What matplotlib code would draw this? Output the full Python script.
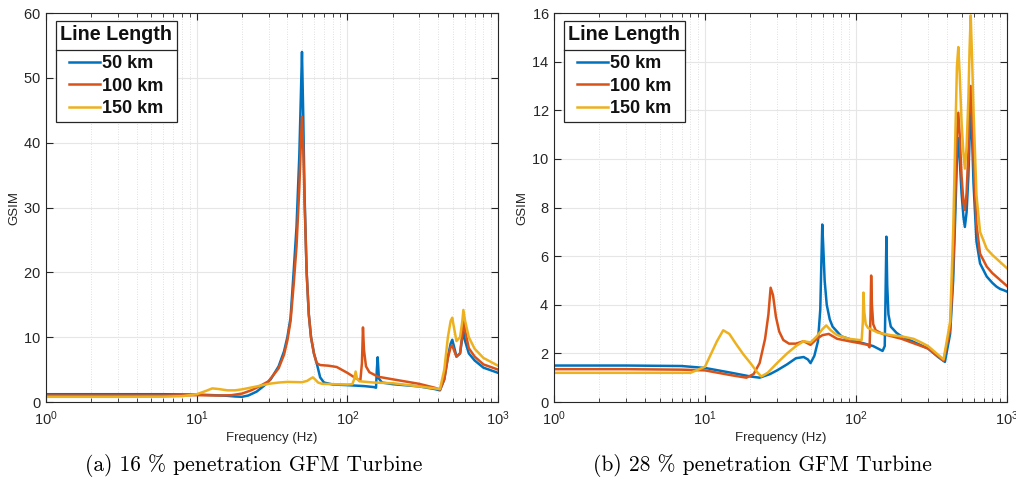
import numpy as np
import matplotlib
matplotlib.use("Agg")
import matplotlib.pyplot as plt
from matplotlib.lines import Line2D

# -----------------------------
# Datos
# -----------------------------
etiquetas = ["50 km", "100 km", "150 km"]
colores = ["#0072BD", "#D95319", "#EDB120"]

# (a) 16 % penetración
f_a_50 = [1, 3, 6, 10, 13, 16, 18, 20, 22, 25,
          28, 31, 35, 38, 40, 42, 44, 46, 48, 49,
          50, 51, 52, 53.7, 55.5, 57.4, 60, 62.6, 66, 70,
          80, 100, 130, 150, 155, 157, 159, 162, 170, 200,
          300, 380, 412, 440, 465, 485, 497, 510, 530, 560,
          580, 589, 605, 640, 700, 800, 1000]
g_a_50 = [1.2, 1.2, 1.2, 1.15, 1.05, 0.95, 0.85, 0.8, 1.0, 1.6,
          2.5, 3.5, 5.5, 7.8, 10, 13, 20, 27, 38, 46,
          54, 44, 32, 20, 13.5, 10, 7.5, 6.0, 3.8, 3.0,
          2.7, 2.6, 2.45, 2.3, 2.2, 5.0, 6.9, 3.6, 3.0, 2.75,
          2.4, 2.0, 1.8, 3.5, 7.0, 9.0, 9.6, 8.6, 7.0, 7.5,
          10.0, 10.8, 9.4, 7.5, 6.4, 5.3, 4.5]

f_a_100 = [1, 3, 6, 10, 14, 17, 20, 23, 26, 30,
           35, 38, 40, 42, 44, 46, 48, 49, 50, 51,
           52, 53.7, 55.5, 57.4, 60, 62.6, 66, 75, 85, 100,
           115, 122, 125, 127, 129, 133, 140, 160, 200, 300,
           380, 412, 440, 465, 485, 497, 510, 530, 560, 580,
           589, 605, 640, 700, 800, 1000]
g_a_100 = [1.0, 1.0, 1.0, 1.05, 1.0, 1.05, 1.3, 1.8, 2.4, 3.2,
           5.2, 7.3, 9.5, 12.5, 18, 24, 33, 39, 44, 39,
           31, 20, 13.5, 10, 7.5, 6.0, 5.7, 5.6, 5.4, 4.5,
           3.6, 3.3, 6.0, 11.5, 8.0, 5.5, 4.6, 3.9, 3.5, 2.8,
           2.2, 1.9, 3.5, 6.8, 8.5, 8.7, 8.0, 7.0, 7.5, 10.5,
           13.2, 11.0, 8.3, 7.0, 5.8, 5.0]

f_a_150 = [1, 3, 6, 8, 10, 11.5, 12.7, 14, 16, 18,
           20, 25, 30, 35, 40, 50, 54, 57, 59, 61,
           64, 68, 80, 100, 108, 111, 113.5, 116, 120, 150,
           200, 300, 380, 412, 440, 465, 485, 497, 510, 530,
           560, 580, 589, 605, 640, 700, 800, 1000]
g_a_150 = [0.8, 0.8, 0.82, 0.9, 1.2, 1.7, 2.1, 2.0, 1.8, 1.8,
           1.95, 2.4, 2.8, 3.0, 3.1, 3.05, 3.25, 3.6, 3.8, 3.5,
           3.0, 2.8, 2.75, 2.7, 2.75, 3.5, 4.7, 3.6, 3.2, 3.0,
           2.9, 2.4, 2.1, 2.0, 5.0, 10.0, 12.5, 13.0, 11.5, 9.4,
           10.0, 12.5, 14.2, 12.5, 10.0, 8.2, 6.8, 5.6]

# (b) 28 % penetración
f_b_50 = [1, 3, 7, 10, 15, 20, 23, 27, 30, 35,
          40, 45, 48, 50, 53, 56, 58, 59, 59.8, 60.6,
          62, 64, 67, 70, 80, 100, 130, 150, 155, 157,
          159, 161, 164, 170, 185, 200, 300, 350, 388, 420,
          440, 455, 466, 476, 486, 500, 515, 526, 540, 555,
          565, 575, 588, 600, 628, 663, 734, 800, 850, 900,
          950, 1000]
g_b_50 = [1.5, 1.5, 1.48, 1.4, 1.2, 1.05, 1.0, 1.15, 1.3, 1.55,
          1.8, 1.85, 1.75, 1.6, 1.9, 2.5, 3.8, 5.8, 7.3, 6.5,
          5.0, 4.0, 3.4, 3.1, 2.7, 2.5, 2.3, 2.1, 2.3, 4.5,
          6.8, 4.8, 3.6, 3.1, 2.85, 2.7, 2.2, 1.85, 1.65, 2.8,
          5.0, 7.8, 10.0, 10.85, 10.0, 8.6, 7.6, 7.2, 7.8, 9.3,
          10.8, 11.9, 10.8, 9.0, 6.6, 5.7, 5.16, 4.9, 4.75, 4.65,
          4.6, 4.54]

f_b_100 = [1, 3, 7, 10, 15, 18.8, 21, 23, 25, 26.3,
           27.2, 28.2, 29.5, 31, 33, 36, 40, 45, 50, 55,
           60, 66, 75, 90, 110, 120, 123, 124.8, 126, 127.5,
           130, 135, 150, 200, 300, 380, 420, 440, 455, 466,
           476, 486, 500, 515, 526, 540, 555, 565, 575, 588,
           600, 628, 663, 734, 800, 1000]
g_b_100 = [1.35, 1.35, 1.33, 1.3, 1.1, 1.0, 1.15, 1.6, 2.6, 3.6,
           4.7, 4.4, 3.5, 2.9, 2.55, 2.4, 2.4, 2.5, 2.35, 2.6,
           2.75, 2.8, 2.6, 2.5, 2.4, 2.35, 2.25, 3.6, 5.2, 4.0,
           3.2, 2.95, 2.8, 2.6, 2.2, 1.7, 3.0, 5.5, 8.5, 11.0,
           11.9, 11.0, 9.3, 8.2, 7.9, 8.6, 10.3, 12.0, 13.0, 11.8,
           10.0, 7.3, 6.1, 5.57, 5.3, 4.77]

f_b_150 = [1, 3, 8, 10, 11, 12, 13.2, 14.5, 16, 18,
           20, 22, 23.6, 26, 30, 35, 40, 45, 50, 55,
           60, 63.5, 68, 75, 90, 105, 109, 111, 112, 113.5,
           116, 120, 140, 170, 200, 240, 250, 270, 300, 380,
           420, 440, 455, 466, 476, 486, 500, 515, 526, 540,
           555, 565, 575, 588, 600, 628, 663, 734, 800, 1000]
g_b_150 = [1.2, 1.2, 1.2, 1.45, 2.0, 2.5, 2.95, 2.8, 2.4, 1.95,
           1.6, 1.25, 1.05, 1.2, 1.6, 2.0, 2.3, 2.5, 2.45, 2.7,
           3.0, 3.15, 2.95, 2.75, 2.6, 2.55, 2.55, 3.3, 4.5, 3.7,
           3.2, 3.05, 2.85, 2.75, 2.7, 2.6, 2.55, 2.45, 2.3, 1.75,
           3.3, 7.0, 11.0, 13.8, 14.6, 13.5, 11.5, 10.2, 9.6, 10.5,
           12.5, 14.5, 15.9, 14.0, 12.0, 8.5, 7.0, 6.3, 6.05, 5.5]

datos_a = [(f_a_50, g_a_50), (f_a_100, g_a_100), (f_a_150, g_a_150)]
datos_b = [(f_b_50, g_b_50), (f_b_100, g_b_100), (f_b_150, g_b_150)]

# -----------------------------
# Figura
# -----------------------------
plt.rcParams["font.family"] = ["Liberation Sans", "DejaVu Sans"]
plt.rcParams["axes.formatter.use_mathtext"] = True

fig = plt.figure(figsize=(10.16, 4.9), dpi=100)
W, H = 1016, 490
ax_a = fig.add_axes([46 / W, 1 - 402 / H, 452 / W, 389 / H])
ax_b = fig.add_axes([554 / W, 1 - 402 / H, 453 / W, 389 / H])

gris = "#262626"


def dibujar(ax, datos, ymax, ypaso):
    for (f, g), lab, c in zip(datos, etiquetas, colores):
        ax.plot(f, g, color=c, lw=1.8, label=lab)
    ax.set_xscale("log")
    ax.set_xlim(1, 1000)
    ax.set_ylim(0, ymax)
    ax.set_yticks(np.arange(0, ymax + 0.1, ypaso))
    ax.grid(True, which="major", color="#e6e6e6", lw=0.8)
    ax.grid(True, which="minor", axis="x", color="#d6d6d6", lw=0.6, ls=(0, (1, 2)))
    ax.tick_params(which="both", direction="in", top=True, right=True,
                   colors=gris, labelsize=10.5)
    ax.tick_params(axis="x", pad=5)
    ax.tick_params(which="major", length=5)
    ax.tick_params(which="minor", length=3)
    for s in ax.spines.values():
        s.set_color(gris)
        s.set_linewidth(0.8)
    ax.set_xlabel("Frequency (Hz)", fontsize=9.5, color=gris, labelpad=3)
    ax.set_ylabel("GSIM", fontsize=9.5, color=gris, labelpad=2)
    leg = ax.legend(loc="upper left", bbox_to_anchor=(9.7 / 452, 1 - 7.7 / 389),
                    borderaxespad=0, title="Line Length", fancybox=False,
                    edgecolor=gris, framealpha=1, handlelength=1.7,
                    handletextpad=0.15, borderpad=0.25, labelspacing=0.3,
                    prop={"weight": "bold", "size": 13},
                    title_fontproperties={"weight": "bold", "size": 14.2})
    leg._legend_box.sep = 8
    leg.get_frame().set_linewidth(0.9)
    for t in leg.get_texts():
        t.set_color("#111111")
    leg.get_title().set_color("#111111")
    for l in leg.get_lines():
        l.set_linewidth(1.8)
    return leg


leg_a = dibujar(ax_a, datos_a, 60, 10)
leg_b = dibujar(ax_b, datos_b, 16, 2)

fig.text(0.25, 1 - 465 / H, "(a) 16 % penetration GFM Turbine", ha="center", va="center",
         fontsize=15.5, family="cmr10")
fig.text(0.75, 1 - 465 / H, "(b) 28 % penetration GFM Turbine", ha="center", va="center",
         fontsize=15.5, family="cmr10")

# separador del título de la leyenda (estilo MATLAB)
fig.canvas.draw()
rend = fig.canvas.get_renderer()
for leg in (leg_a, leg_b):
    caja = leg.get_frame().get_window_extent()
    tit = leg.get_title().get_window_extent()
    ent = leg._legend_handle_box.get_window_extent(rend)
    y = (tit.y0 + ent.y1) / 2 / H
    fig.add_artist(Line2D([caja.x0 / W, caja.x1 / W], [y, y], color=gris, lw=0.9))

plt.savefig("out.png", dpi=100)
